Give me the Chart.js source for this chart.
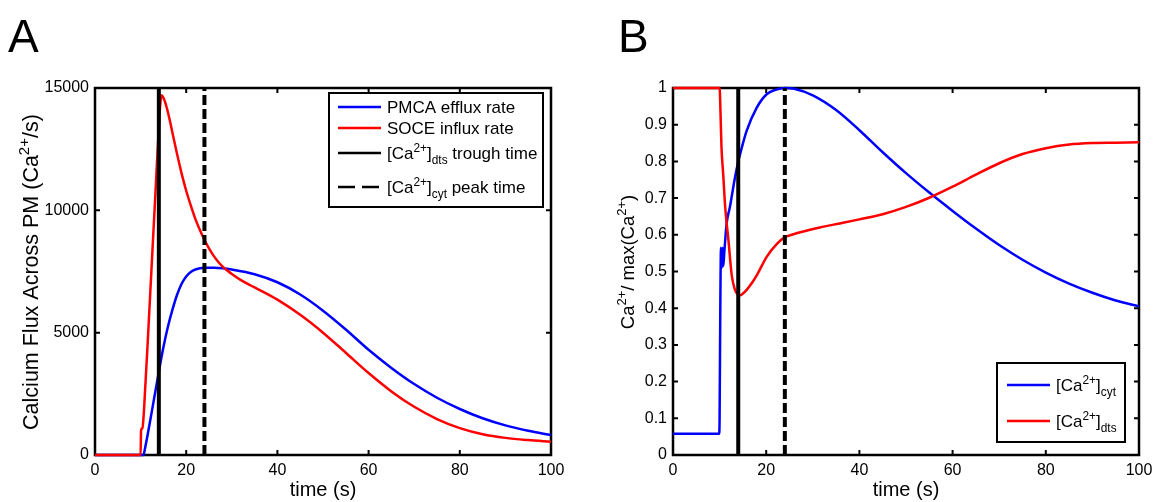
<!DOCTYPE html>
<html><head><meta charset="utf-8">
<script src="https://cdn.jsdelivr.net/npm/chart.js@4.4.0/dist/chart.umd.min.js"></script>
<style>
html,body{margin:0;padding:0;background:#fff;overflow:hidden;}
#wrap{position:relative;width:1161px;height:502px;}
.c{position:absolute;top:0;height:502px;}
</style></head><body>
<div id="wrap">
<div class="c" style="left:0;width:580px"><canvas id="ca"></canvas></div>
<div class="c" style="left:580px;width:581px"><canvas id="cb"></canvas></div>
</div>
<script>
// ---------- Panel A data ----------
const timeA_pmca = [0, 10.6, 11, 12, 13, 14, 15, 16, 17, 18, 19, 20, 21, 22, 24, 26, 28, 30, 35, 40, 45, 50, 55, 60, 65, 70, 75, 80, 85, 90, 95, 100];
const pmcaRate   = [0, 0, 300, 1300, 2350, 3400, 4400, 5250, 5950, 6550, 7000, 7300, 7480, 7580, 7650, 7650, 7630, 7580, 7390, 7060, 6560, 5900, 5130, 4300, 3560, 2900, 2340, 1880, 1500, 1210, 990, 815];
const timeA_soce = [0, 10.0, 10.1, 10.4, 10.7, 11, 11.5, 12, 12.5, 13, 13.5, 14, 14.3, 14.6, 15, 15.5, 16, 16.5, 17, 18, 19, 20, 21, 22, 23, 24, 25, 26, 27, 28, 29, 30, 32, 35, 40, 45, 50, 55, 60, 65, 70, 75, 80, 85, 90, 95, 100];
const soceRate   = [0, 0, 1000, 1100, 1700, 2700, 4400, 6200, 8000, 9800, 11600, 13400, 14300, 14700, 14600, 14350, 14000, 13600, 13150, 12300, 11500, 10800, 10200, 9650, 9200, 8800, 8450, 8150, 7900, 7700, 7540, 7400, 7150, 6850, 6350, 5730, 5000, 4180, 3350, 2600, 1970, 1470, 1100, 850, 700, 610, 545];
// ---------- Panel B data ----------
const timeB_cyt = [0, 9.9, 10.0, 10.15, 10.3, 10.5, 10.65, 10.8, 11.0, 11.5, 12.2, 13.3, 14.0, 14.4, 15.8, 18, 20.1, 22, 24, 26, 30, 35, 40, 45, 50, 55, 60, 65, 70, 75, 80, 85, 90, 95, 100];
const caCyt     = [0.058, 0.058, 0.1, 0.4, 0.565, 0.51, 0.565, 0.515, 0.55, 0.63, 0.675, 0.756, 0.80, 0.82, 0.883, 0.947, 0.983, 0.995, 1.0, 0.998, 0.98, 0.94, 0.885, 0.825, 0.768, 0.715, 0.665, 0.617, 0.572, 0.532, 0.497, 0.467, 0.442, 0.421, 0.405];
const timeB_dts = [0, 10.0, 10.2, 10.4, 10.8, 11.2, 11.9, 12.6, 13.3, 14.0, 14.4, 15.0, 15.8, 17, 18, 20.1, 22.3, 23.9, 25.5, 27.3, 31.5, 35.8, 40, 45, 50, 55, 60, 65, 70, 75, 80, 85, 90, 95, 100];
const caDts     = [1.0, 1.0, 0.93, 0.84, 0.76, 0.675, 0.585, 0.49, 0.45, 0.437, 0.435, 0.44, 0.45, 0.47, 0.49, 0.54, 0.575, 0.593, 0.6, 0.607, 0.62, 0.631, 0.642, 0.656, 0.676, 0.701, 0.731, 0.764, 0.795, 0.82, 0.836, 0.846, 0.85, 0.851, 0.852];
// ---------- markers & ticks ----------
const troughTime = 14;
const peakTime = 24;
const xTicks = [0, 20, 40, 60, 80, 100];
const yTicksA = [0, 5000, 10000, 15000];
const yTicksB = [0, 0.1, 0.2, 0.3, 0.4, 0.5, 0.6, 0.7, 0.8, 0.9, 1];

const FONT = '"Liberation Sans", Arial, Helvetica, sans-serif';
const BLUE = '#0000ff', RED = '#ff0000', BLACK = '#000000';

function pts(xs, ys) { return xs.map((x, i) => ({ x: x, y: ys[i] })); }

function drawRich(ctx, parts, x, baseline, size, align) {
  const fontOf = s => s + 'px ' + FONT;
  let total = 0;
  const widths = parts.map(p => {
    const s = p[1] === 'n' ? size : size * 0.7;
    ctx.font = fontOf(s);
    const w = ctx.measureText(p[0]).width;
    total += w;
    return w;
  });
  let cx = align === 'center' ? x - total / 2 : x;
  ctx.textAlign = 'left';
  ctx.textBaseline = 'alphabetic';
  parts.forEach((p, i) => {
    const s = p[1] === 'n' ? size : size * 0.7;
    ctx.font = fontOf(s);
    let dy = 0;
    if (p[1] === 'sup') dy = -size * 0.42;
    if (p[1] === 'sub') dy = size * 0.32;
    ctx.fillText(p[0], cx, baseline + dy);
    cx += widths[i];
  });
}

function framePlugin(cfg) {
  return {
    id: 'frame_' + cfg.letter,
    beforeDatasetsDraw(chart) {
      const ctx = chart.ctx, a = chart.chartArea;
      const sx = chart.scales.x, sy = chart.scales.y;
      ctx.save();
      ctx.strokeStyle = BLACK;
      ctx.lineWidth = 2;
      ctx.beginPath();
      xTicks.forEach(v => {
        const px = sx.getPixelForValue(v);
        ctx.moveTo(px, a.bottom); ctx.lineTo(px, a.bottom - 5);
        ctx.moveTo(px, a.top); ctx.lineTo(px, a.top + 5);
      });
      cfg.yTicks.forEach(v => {
        const py = sy.getPixelForValue(v);
        ctx.moveTo(a.left, py); ctx.lineTo(a.left + 5, py);
        ctx.moveTo(a.right, py); ctx.lineTo(a.right - 5, py);
      });
      ctx.stroke();
      ctx.lineWidth = 2.5;
      ctx.strokeRect(a.left, a.top, a.right - a.left, a.bottom - a.top);
      ctx.restore();
    },
    afterDraw(chart) {
      const ctx = chart.ctx, a = chart.chartArea;
      ctx.save();
      ctx.fillStyle = BLACK;
      ctx.font = '46px ' + FONT;
      ctx.textAlign = 'left'; ctx.textBaseline = 'alphabetic';
      ctx.fillText(cfg.letter, cfg.letterX, 52);
      drawRich(ctx, [['time (s)', 'n']], (a.left + a.right) / 2, 496, 20, 'center');
      ctx.save();
      ctx.translate(cfg.yTitleX, cfg.yTitleY);
      ctx.rotate(-Math.PI / 2);
      drawRich(ctx, cfg.yTitle, 0, 0, cfg.yTitleSize, 'center');
      ctx.restore();
      const L = cfg.legend;
      ctx.fillStyle = '#ffffff';
      ctx.fillRect(L.x, L.y, L.w, L.h);
      ctx.strokeStyle = BLACK; ctx.lineWidth = 2;
      ctx.strokeRect(L.x, L.y, L.w, L.h);
      L.items.forEach(it => {
        ctx.save();
        ctx.strokeStyle = it.color;
        ctx.lineWidth = it.width;
        ctx.setLineDash(it.dash || []);
        ctx.beginPath();
        ctx.moveTo(L.lineX0, it.y); ctx.lineTo(L.lineX1, it.y);
        ctx.stroke();
        ctx.restore();
        ctx.fillStyle = BLACK;
        drawRich(ctx, it.parts, L.textX, it.y + 6, 17, 'left');
      });
      ctx.restore();
    }
  };
}

function lineDs(data, color, width, order, dash) {
  return {
    data: data, showLine: true, borderColor: color, backgroundColor: color,
    borderWidth: width, pointRadius: 0, pointHoverRadius: 0, fill: false,
    cubicInterpolationMode: dash === undefined ? 'monotone' : 'default',
    tension: 0, clip: false, borderDash: dash || [], order: order
  };
}

function makeChart(id, cfg) {
  return new Chart(document.getElementById(id), {
    type: 'scatter',
    data: { datasets: cfg.datasets },
    options: {
      responsive: true, maintainAspectRatio: false, animation: false,
      events: [],
      layout: { padding: { left: 0, right: cfg.padRight, top: 88, bottom: 0 } },
      plugins: { legend: { display: false }, tooltip: { enabled: false } },
      scales: {
        x: {
          type: 'linear', min: 0, max: 100,
          afterBuildTicks: s => { s.ticks = xTicks.map(v => ({ value: v })); },
          afterFit: s => { s.height = 47; },
          grid: { display: false, drawTicks: false },
          border: { display: false },
          ticks: { font: { family: FONT, size: 16 }, color: BLACK, padding: 6, maxRotation: 0, autoSkip: false, callback: v => String(v) }
        },
        y: {
          type: 'linear', min: 0, max: cfg.yMax,
          afterBuildTicks: s => { s.ticks = cfg.yTicks.map(v => ({ value: v })); },
          afterFit: s => { s.width = cfg.yWidth; },
          grid: { display: false, drawTicks: false },
          border: { display: false },
          ticks: { font: { family: FONT, size: 16 }, color: BLACK, padding: 6, autoSkip: false, callback: v => String(Math.round(v * 10) / 10) }
        }
      }
    },
    plugins: [framePlugin(cfg)]
  });
}

makeChart('ca', {
  letter: 'A', letterX: 8, yMax: 15000, yTicks: yTicksA, yWidth: 95, padRight: 29,
  yTitle: [['Calcium Flux Across PM (Ca', 'n'], ['2+', 'sup'], ['/s)', 'n']], yTitleX: 38, yTitleY: 272, yTitleSize: 21.5,
  datasets: [
    lineDs(pts([troughTime, troughTime], [0, 15000]), BLACK, 4, 0, []),
    lineDs(pts([peakTime, peakTime], [0, 15000]), BLACK, 4, 1, [10, 4]),
    lineDs(pts(timeA_soce, soceRate), RED, 2.5, 2),
    lineDs(pts(timeA_pmca, pmcaRate), BLUE, 2.5, 3)
  ],
  legend: {
    x: 329, y: 93, w: 214, h: 114, lineX0: 338, lineX1: 381, textX: 387,
    items: [
      { y: 107, color: BLUE, width: 2.5, parts: [['PMCA efflux rate', 'n']] },
      { y: 128, color: RED, width: 2.5, parts: [['SOCE influx rate', 'n']] },
      { y: 153, color: BLACK, width: 2.5, parts: [['[Ca', 'n'], ['2+', 'sup'], [']', 'n'], ['dts', 'sub'], [' trough time', 'n']] },
      { y: 187, color: BLACK, width: 2.5, dash: [17, 7], parts: [['[Ca', 'n'], ['2+', 'sup'], [']', 'n'], ['cyt', 'sub'], [' peak time', 'n']] }
    ]
  }
});

makeChart('cb', {
  letter: 'B', letterX: 38, yMax: 1, yTicks: yTicksB, yWidth: 93, padRight: 22,
  yTitle: [['Ca', 'n'], ['2+', 'sup'], ['/ max(Ca', 'n'], ['2+', 'sup'], [')', 'n']], yTitleX: 54, yTitleY: 262, yTitleSize: 18.5,
  datasets: [
    lineDs(pts([troughTime, troughTime], [0, 1]), BLACK, 4, 0, []),
    lineDs(pts([peakTime, peakTime], [0, 1]), BLACK, 4, 1, [10, 4]),
    lineDs(pts(timeB_dts, caDts), RED, 2.5, 2),
    lineDs(pts(timeB_cyt, caCyt), BLUE, 2.5, 3)
  ],
  legend: {
    x: 417, y: 363, w: 128, h: 79, lineX0: 427, lineX1: 470, textX: 476,
    items: [
      { y: 385, color: BLUE, width: 2.5, parts: [['[Ca', 'n'], ['2+', 'sup'], [']', 'n'], ['cyt', 'sub']] },
      { y: 421, color: RED, width: 2.5, parts: [['[Ca', 'n'], ['2+', 'sup'], [']', 'n'], ['dts', 'sub']] }
    ]
  }
});
</script>
</body></html>
